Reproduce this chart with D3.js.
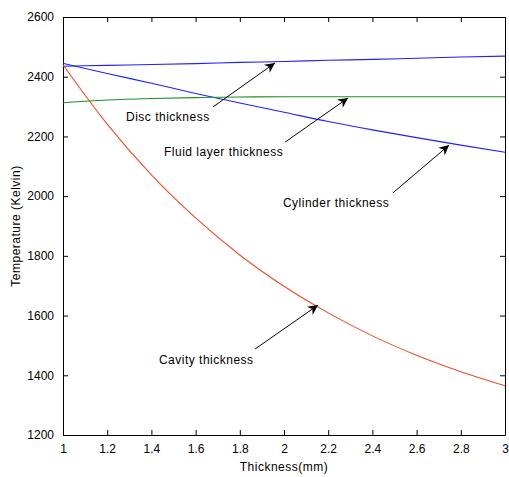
<!DOCTYPE html>
<html><head><meta charset="utf-8">
<script src="https://cdn.jsdelivr.net/npm/d3@7"></script>
<style>
body{margin:0;background:#fff;}
svg text{font-family:"Liberation Sans",Arial,Helvetica,sans-serif;fill:#000;}
</style></head>
<body><svg id="c" width="509" height="477"></svg>
<script>
const thickness = [1.0,1.2,1.4,1.6,1.8,2.0,2.2,2.4,2.6,2.8,3.0];
const discTemp     = [2435,2438,2441,2444,2448,2451,2455,2458,2462,2466,2469];
const cylinderTemp = [2445,2411,2378,2344,2312,2281,2250,2222,2196,2171,2147];
const fluidTemp    = [2313,2322,2327,2330,2332,2333,2333,2333,2333,2333,2333];
const cavityTemp   = [2440,2241,2071,1927,1803,1698,1609,1532,1467,1412,1365];
const xTicks = [1,1.2,1.4,1.6,1.8,2,2.2,2.4,2.6,2.8,3];
const yTicks = [1200,1400,1600,1800,2000,2200,2400,2600];
const seriesNames = ["Disc thickness","Cylinder thickness","Fluid layer thickness","Cavity thickness"];
const seriesColors = ["#2020ff","#2020ff","#1f8f1f","#f04a2a"];
// annotation anchors in data coordinates
const annotations = [
  {text:"Disc thickness",        tx:1.285, ty:2252, ax:1.679, ay:2299, hx:1.959, hy:2446},
  {text:"Fluid layer thickness", tx:1.457, ty:2134, ax:2.005, ay:2181, hx:2.290, hy:2329},
  {text:"Cylinder thickness",    tx:1.995, ty:1964, ax:2.493, ay:2011, hx:2.747, hy:2171},
  {text:"Cavity thickness",      tx:1.434, ty:1438, ax:1.869, ay:1488, hx:2.154, hy:1635}
];

const svg = d3.select("#c");
const L=63,R=505,T=17,B=435;
const x = d3.scaleLinear().domain([1,3]).range([L,R]);
const y = d3.scaleLinear().domain([1200,2600]).range([B,T]);

const defs = svg.append("defs");
defs.append("marker").attr("id","ah").attr("viewBox","0 0 10 10").attr("refX",10).attr("refY",5)
  .attr("markerWidth",12).attr("markerHeight",10).attr("markerUnits","userSpaceOnUse").attr("orient","auto")
  .append("path").attr("d","M0,0 L10,5 L0,10 L3,5 Z").attr("fill","#000");

const fmt = d => String(d);
svg.append("g").attr("transform",`translate(0,${B})`)
  .call(d3.axisBottom(x).tickValues(xTicks).tickFormat(fmt).tickSizeInner(-5).tickSizeOuter(0).tickPadding(9));
svg.append("g").attr("transform",`translate(0,${T})`)
  .call(d3.axisTop(x).tickValues(xTicks).tickFormat("").tickSizeInner(-5).tickSizeOuter(0));
svg.append("g").attr("transform",`translate(${L},0)`)
  .call(d3.axisLeft(y).tickValues(yTicks).tickFormat(fmt).tickSizeInner(-5).tickSizeOuter(0).tickPadding(9));
svg.append("g").attr("transform",`translate(${R},0)`)
  .call(d3.axisRight(y).tickValues(yTicks).tickFormat("").tickSizeInner(-5).tickSizeOuter(0));
svg.selectAll(".domain").attr("stroke","#000");
svg.selectAll(".tick line").attr("stroke","#000");
svg.selectAll(".tick text").attr("font-size",12).attr("fill","#000");

const allSeries = [discTemp,cylinderTemp,fluidTemp,cavityTemp];
const line = d3.line().x((d,i)=>x(thickness[i])).y(d=>y(d)).curve(d3.curveMonotoneX);
allSeries.forEach((s,k)=>{
  svg.append("path").datum(s).attr("d",line).attr("fill","none")
    .attr("stroke",seriesColors[k]).attr("stroke-width",1.1);
});

annotations.forEach(a=>{
  svg.append("line").attr("x1",x(a.ax)).attr("y1",y(a.ay)).attr("x2",x(a.hx)).attr("y2",y(a.hy))
    .attr("stroke","#000").attr("stroke-width",1).attr("marker-end","url(#ah)");
  svg.append("text").attr("x",x(a.tx)).attr("y",y(a.ty)).attr("font-size",12)
    .attr("letter-spacing","0.5px").text(a.text);
});

svg.append("text").attr("x",(L+R)/2).attr("y",471).attr("text-anchor","middle").attr("font-size",12)
  .attr("letter-spacing","0.5px").text("Thickness(mm)");
svg.append("text").attr("transform",`translate(20,${(T+B)/2}) rotate(-90)`).attr("text-anchor","middle")
  .attr("font-size",12).attr("letter-spacing","0.5px").text("Temperature (Kelvin)");
</script></body></html>
